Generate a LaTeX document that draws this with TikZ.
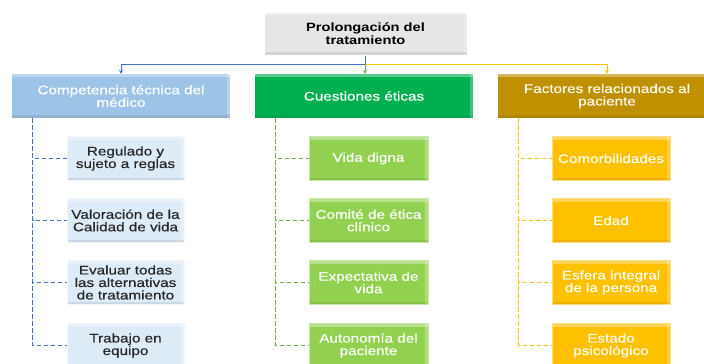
\documentclass[tikz,border=0pt]{standalone}
\usepackage{fontspec}
\setmainfont[FakeStretch=1.22, UprightFeatures={FakeBold=0.35}]{Liberation Sans}
\usetikzlibrary{arrows.meta}
\definecolor{topfill}{HTML}{E6E6E6}
\definecolor{bluepar}{HTML}{9DC3E6}
\definecolor{bluechild}{HTML}{DDEBF7}
\definecolor{blueline}{HTML}{4472C4}
\definecolor{greenpar}{HTML}{00B050}
\definecolor{greenchild}{HTML}{92D050}
\definecolor{greenline}{HTML}{70AD47}
\definecolor{yellowpar}{HTML}{BF9000}
\definecolor{yellowchild}{HTML}{FFC000}
\definecolor{yellowline}{HTML}{FFC000}
\definecolor{darktext}{HTML}{262626}
\begin{document}
\begin{tikzpicture}[x=1pt,y=-1pt,
  box/.style={rectangle, inner sep=0pt, align=center,
    font=\fontsize{12.5}{12.5}\selectfont,
    path picture={
      \fill[white,opacity=0.35] (path picture bounding box.north west) rectangle ([yshift=-3pt]path picture bounding box.north east);
      \fill[white,opacity=0.25] ([xshift=-3pt]path picture bounding box.north east) rectangle (path picture bounding box.south east);
      \fill[black,opacity=0.08] (path picture bounding box.south west) rectangle ([yshift=3pt]path picture bounding box.south east);
    }},
  topbox/.style={box, fill=topfill, draw=white, line width=1pt, text=black,
    minimum width=203pt, minimum height=43pt, font=\fontsize{12}{12.5}\selectfont\bfseries},
  parbox/.style={box, minimum width=218pt, minimum height=44pt, text=white},
  childbox/.style={box, minimum height=44pt},
  bpar/.style={parbox, fill=bluepar},
  gpar/.style={parbox, fill=greenpar},
  ypar/.style={parbox, fill=yellowpar, text=white!95!yellow},
  bch/.style={childbox, fill=bluechild, draw=white!60!bluechild, minimum width=117pt, text=darktext},
  gch/.style={childbox, fill=greenchild, draw=white!50!greenchild, minimum width=119pt, text=white},
  ych/.style={childbox, fill=yellowchild, draw=white!50!yellowchild, minimum width=118pt, text=white!95!yellow},
  conn/.style={line width=1.3pt, dash pattern=on 4.5pt off 2.5pt},
  topconn/.style={line width=1pt, -{Stealth[length=4pt,width=4pt]}}
]
\useasboundingbox (0,0) rectangle (704,364);

\node[topbox] (top) at (365.5,33.5) {Prolongación del\\tratamiento};

\node[bpar] (bp) at (121,96) {Competencia técnica del\\médico};
\node[gpar] (gp) at (364,96) {Cuestiones éticas};
\node[ypar] (yp) at (607,96) {Factores relacionados al\\paciente};

\coordinate (split) at (365,64);
\draw[topconn, blueline] (top.south -| split) -- (split) -| (bp.north);
\draw[topconn, yellowline] (split) -| (yp.north);
\draw[topconn, greenline] (split) -- (gp.north -| split);

\node[bch] (b1) at (125.5,158.5) {Regulado y\\sujeto a reglas};
\node[bch] (b2) at (125.5,220.5) {Valoración de la\\Calidad de vida};
\node[bch] (b3) at (125.5,282.5) {Evaluar todas\\las alternativas\\de tratamiento};
\node[bch] (b4) at (125.5,345.5) {Trabajo en\\equipo};

\node[gch] (g1) at (368.5,158.5) {Vida digna};
\node[gch] (g2) at (368.5,220.5) {Comité de ética\\clínico};
\node[gch] (g3) at (368.5,282.5) {Expectativa de\\vida};
\node[gch] (g4) at (368.5,345.5) {Autonomía del\\paciente};

\node[ych] (y1) at (611,158.5) {Comorbilidades};
\node[ych] (y2) at (611,220.5) {Edad};
\node[ych] (y3) at (611,282.5) {Esfera integral\\de la persona};
\node[ych] (y4) at (611,345.5) {Estado\\psicológico};

\foreach \c in {1,2,3,4} {
  \draw[conn, blueline] ([xshift=21pt]bp.south west) |- (b\c.west);
  \draw[conn, greenline] ([xshift=21pt]gp.south west) |- (g\c.west);
  \draw[conn, yellowline] ([xshift=21pt]yp.south west) |- (y\c.west);
}
\end{tikzpicture}
\end{document}
